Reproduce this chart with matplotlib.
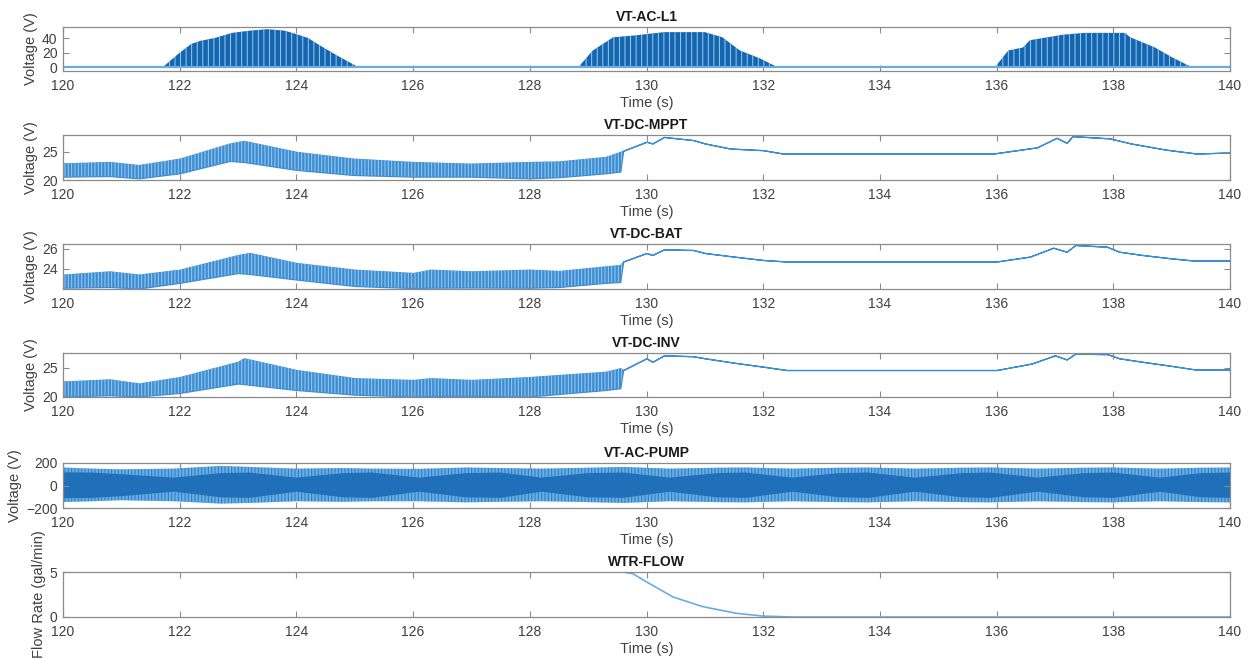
import matplotlib
matplotlib.use("Agg")
import matplotlib.pyplot as plt

plt.rcParams['font.family'] = ['Liberation Sans', 'DejaVu Sans']
plt.rcParams['hatch.linewidth'] = 0.7

# VT-AC-L1: half-wave bursts, baseline 0 V outside the bursts
l1_t = [120.0, 121.7, 121.75, 122.0, 122.2, 122.35, 122.6, 122.9, 123.2, 123.5, 123.8, 123.97,
        124.2, 124.4, 124.7, 125.0, 125.05,
        128.8, 128.85, 129.08, 129.43, 129.8, 130.3, 131.0, 131.3, 131.6, 131.95, 132.2, 132.25,
        135.98, 136.02, 136.2, 136.45, 136.57, 137.14, 137.5, 138.2, 138.29, 138.7, 139.0, 139.3, 139.35,
        140.0]
l1_hi = [0, 0, 3, 20, 32, 36, 40, 47, 50, 52, 50, 46,
         40, 30, 16, 3, 0,
         0, 2, 23, 41, 43.5, 48, 48, 41, 23, 12, 2, 0,
         0, 5, 23, 27, 37, 44.5, 47, 47, 41, 27.6, 14, 2, 0,
         0]
l1_lo = [0] * len(l1_t)

# VT-DC-MPPT: ripple band until ~129.6 s, then a single trace (hi == lo)
mppt_t = [120.0, 120.8, 121.3, 122.0, 122.86, 123.1, 124.0, 124.97, 126.0, 126.97, 128.0, 128.5,
          129.3, 129.55, 129.6, 130.0, 130.1, 130.3, 130.8, 131.0, 131.43, 132.0, 132.34,
          135.94, 136.69, 137.03, 137.2, 137.3, 137.94, 138.3, 138.9, 139.43, 140.0]
mppt_hi = [22.95, 23.2, 22.65, 23.8, 26.5, 26.95, 25.0, 23.8, 23.2, 22.9, 23.2, 23.3,
           24.1, 25.0, 25.2, 26.8, 26.5, 27.65, 27.1, 26.5, 25.6, 25.3, 24.7,
           24.7, 25.8, 27.5, 26.6, 27.8, 27.4, 26.5, 25.4, 24.7, 24.9]
mppt_lo = [20.6, 20.7, 20.3, 21.2, 23.4, 23.2, 21.8, 20.9, 20.6, 20.6, 20.3, 20.5,
           21.2, 21.5, 25.2, 26.8, 26.5, 27.65, 27.1, 26.5, 25.6, 25.3, 24.7,
           24.7, 25.8, 27.5, 26.6, 27.8, 27.4, 26.5, 25.4, 24.7, 24.9]

# VT-DC-BAT
bat_t = [120.0, 120.8, 121.3, 122.0, 123.0, 123.2, 124.0, 125.0, 126.0, 126.3, 127.0, 128.0, 128.5,
         129.3, 129.55, 129.6, 130.0, 130.1, 130.3, 130.8, 131.0, 131.5, 132.0, 132.4,
         136.0, 136.57, 136.97, 137.2, 137.35, 137.89, 138.1, 138.5, 138.97, 139.37, 140.0]
bat_hi = [23.44, 23.76, 23.44, 23.93, 25.4, 25.6, 24.6, 23.93, 23.6, 23.93, 23.76, 23.93, 23.8,
          24.26, 24.4, 24.75, 25.6, 25.4, 25.97, 25.9, 25.6, 25.24, 24.9, 24.75,
          24.75, 25.24, 26.13, 25.73, 26.4, 26.23, 25.73, 25.4, 25.08, 24.85, 24.85]
bat_lo = [22.13, 22.2, 22.05, 22.62, 23.6, 23.5, 22.95, 22.3, 22.1, 22.13, 22.15, 22.13, 22.2,
          22.62, 22.7, 24.75, 25.6, 25.4, 25.97, 25.9, 25.6, 25.24, 24.9, 24.75,
          24.75, 25.24, 26.13, 25.73, 26.4, 26.23, 25.73, 25.4, 25.08, 24.85, 24.85]

# VT-DC-INV
inv_t = [120.0, 120.8, 121.3, 122.0, 123.0, 123.1, 124.0, 125.0, 126.0, 126.3, 127.0, 128.0,
         129.3, 129.55, 129.6, 130.0, 130.1, 130.3, 130.8, 131.0, 131.5, 132.0, 132.4,
         136.0, 136.6, 137.0, 137.2, 137.35, 137.9, 138.1, 138.5, 139.0, 139.4, 140.0]
inv_hi = [22.64, 23.0, 22.3, 23.4, 26.0, 26.6, 24.6, 23.2, 22.9, 23.2, 22.9, 23.4,
          24.3, 24.9, 24.6, 26.6, 26.0, 27.1, 26.95, 26.6, 25.85, 25.17, 24.6,
          24.6, 25.7, 27.1, 26.4, 27.4, 27.3, 26.6, 26.0, 25.3, 24.7, 24.7]
inv_lo = [20.1, 20.3, 20.1, 20.7, 22.3, 22.2, 21.2, 20.4, 20.1, 20.2, 20.2, 20.1,
          21.2, 21.5, 24.6, 26.6, 26.0, 27.1, 26.95, 26.6, 25.85, 25.17, 24.6,
          24.6, 25.7, 27.1, 26.4, 27.4, 27.3, 26.6, 26.0, 25.3, 24.7, 24.7]

# VT-AC-PUMP: outer peaks and the denser inner (beating) band
pump_t = [120.0, 120.5, 121.0, 121.9, 122.7, 123.2, 124.0, 124.8, 125.3, 126.1, 126.9, 127.5,
          128.2, 129.0, 129.6, 130.4, 131.2, 131.7, 132.5, 133.3, 133.8, 134.6, 135.4, 135.9,
          136.7, 137.5, 138.0, 138.8, 139.5, 140.0]
pump_hi = [160, 150, 144, 150, 174, 165, 150, 155, 150, 148, 160, 155,
           150, 158, 165, 150, 158, 160, 150, 158, 160, 150, 158, 160,
           150, 158, 160, 150, 158, 160]
pump_lo = [-147, -140, -131, -140, -161, -155, -140, -145, -140, -140, -150, -145,
           -140, -148, -155, -140, -148, -150, -140, -148, -150, -140, -148, -150,
           -140, -148, -150, -140, -148, -150]
pump_in_hi = [117, 115, 100, 70, 110, 115, 70, 110, 115, 70, 110, 115,
              70, 110, 115, 70, 110, 115, 70, 110, 115, 70, 110, 115,
              70, 110, 115, 70, 110, 115]
pump_in_lo = [-112, -110, -95, -55, -105, -110, -55, -105, -110, -55, -105, -110,
              -55, -105, -110, -55, -105, -110, -55, -105, -110, -55, -105, -110,
              -55, -105, -110, -55, -105, -110]

# WTR-FLOW
flow_t = [120.0, 129.6, 129.77, 130.0, 130.45, 130.97, 131.55, 132.0, 132.5, 140.0]
flow = [5.0, 5.0, 4.8, 3.9, 2.24, 1.14, 0.4, 0.1, 0.0, 0.0]

xticks = [120, 122, 124, 126, 128, 130, 132, 134, 136, 138, 140]

titles = ["VT-AC-L1", "VT-DC-MPPT", "VT-DC-BAT", "VT-DC-INV", "VT-AC-PUMP", "WTR-FLOW"]
ylabels = ["Voltage (V)"] * 5 + ["Flow Rate (gal/min)"]
ylims = [(-5, 55), (20, 28), (22, 26.5), (20, 27.5), (-200, 200), (0, 5)]
yticks = [[0, 20, 40], [20, 25], [24, 26], [20, 25], [-200, 0, 200], [0, 5]]

# axes boxes in pixels (top, bottom)
W, H = 1250, 659
boxes = [(27, 71), (135, 180), (244, 289), (353, 397), (463, 508), (572, 617)]
left, right = 63, 1230

dark = "#1466b0"
mid = "#3d8dd2"
light = "#67ade3"
frame = "#8a8a8a"
txt = "#404040"

fig = plt.figure(figsize=(W / 100, H / 100), dpi=100)
axes = []
for (top, bot) in boxes:
    ax = fig.add_axes([left / W, 1 - bot / H, (right - left) / W, (bot - top) / H])
    axes.append(ax)

# panel 1: dense bursts with lighter gaps between cycles
ax = axes[0]
ax.fill_between(l1_t, l1_lo, l1_hi, facecolor=dark, lw=0)
ax.fill_between(l1_t, l1_lo, l1_hi, facecolor="none", edgecolor="#9ccbf0", hatch="|||", lw=0)
ax.plot(l1_t, l1_lo, color=light, lw=1.6)

# DC panels: ripple band then single trace
for ax, t, lo, hi in [(axes[1], mppt_t, mppt_lo, mppt_hi),
                      (axes[2], bat_t, bat_lo, bat_hi),
                      (axes[3], inv_t, inv_lo, inv_hi)]:
    ax.fill_between(t, lo, hi, facecolor=mid, edgecolor=mid, lw=0.9)
    ax.fill_between(t, lo, hi, facecolor="none", edgecolor="#9fcdf1", hatch="|||||", lw=0)

# pump
ax = axes[4]
ax.fill_between(pump_t, pump_lo, pump_hi, facecolor=light, lw=0)
ax.fill_between(pump_t, pump_lo, pump_hi, facecolor="none", edgecolor="#2a7cc4", hatch="|||||", lw=0)
ax.fill_between(pump_t, pump_in_lo, pump_in_hi, facecolor="#1f70b8", lw=0)

# flow
ax = axes[5]
ax.plot(flow_t, flow, color=light, lw=1.2)

for i, ax in enumerate(axes):
    ax.set_xlim(120, 140)
    ax.set_ylim(*ylims[i])
    ax.set_xticks(xticks)
    ax.set_yticks(yticks[i])
    ax.tick_params(direction="in", length=4, width=0.8, colors=frame, labelcolor=txt,
                   labelsize=10, top=True, right=True)
    ax.tick_params(axis="x", pad=6)
    ax.tick_params(axis="y", pad=4)
    for s in ax.spines.values():
        s.set_color(frame)
        s.set_linewidth(0.9)
    ax.set_title(titles[i], fontsize=10, fontweight="bold", color="#1a1a1a", pad=4)
    ax.set_xlabel("Time (s)", fontsize=10.5, color=txt, labelpad=2)
    ax.set_ylabel(ylabels[i], fontsize=10.5, color=txt, labelpad=3)

fig.savefig("out.png", dpi=100)
